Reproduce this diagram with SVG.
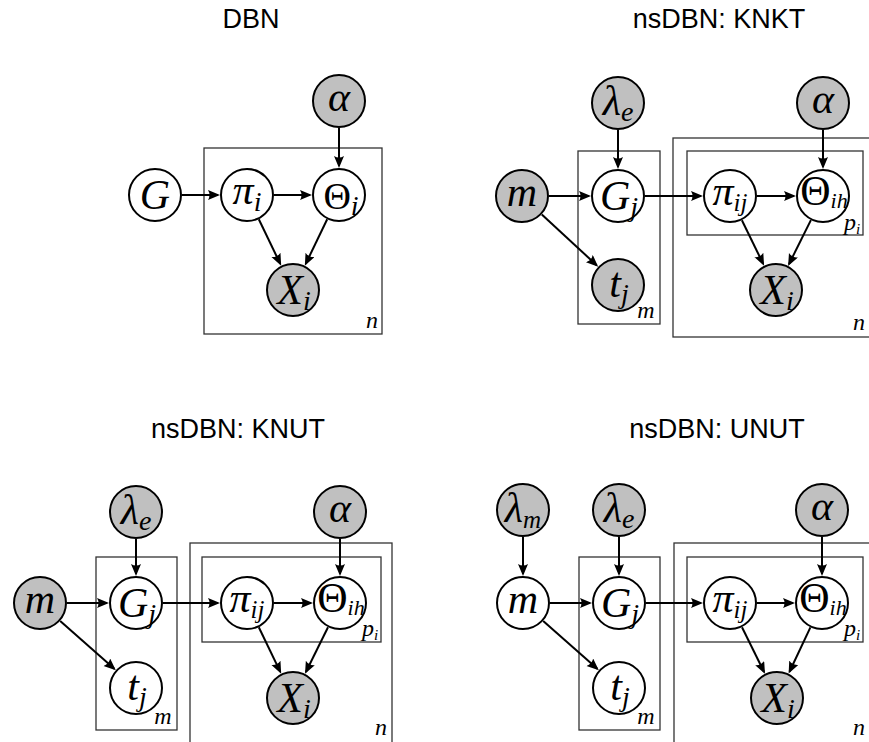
<svg xmlns="http://www.w3.org/2000/svg" width="869" height="742" viewBox="0 0 869 742">
<style>
.title{font-family:"Liberation Sans",Arial,sans-serif;font-size:27px;fill:#000;text-anchor:middle}
.plate{fill:none;stroke:#333;stroke-width:1.3}
.edge{fill:none;stroke:#000;stroke-width:2;marker-end:url(#ah)}
.obs{fill:#c0c0c0;stroke:#000;stroke-width:2}
.lat{fill:#fff;stroke:#000;stroke-width:2}
.lbl{font-family:"Liberation Serif","Times New Roman",serif;font-style:italic;font-size:42px;fill:#000;text-anchor:middle}
.up{font-style:normal}
.sub{font-size:28px}
.sub2{font-size:25px}
.sub3{font-size:22px}
.pl{font-family:"Liberation Serif","Times New Roman",serif;font-style:italic;font-size:24px;fill:#000;text-anchor:middle}
</style>
<defs>
<marker id="ah" markerUnits="userSpaceOnUse" markerWidth="14" markerHeight="12" refX="10" refY="5" orient="auto">
<path d="M0,0 L12,5 L0,10 Q3,5 0,0 z" fill="#000"/>
</marker>
</defs>

<g id="titles">
<text class="title" x="251" y="28">DBN</text>
<text class="title" x="719" y="28">nsDBN: KNKT</text>
<text class="title" x="238" y="438">nsDBN: KNUT</text>
<text class="title" x="717" y="438">nsDBN: UNUT</text>
</g>

<g id="plates">
<rect class="plate" x="204" y="148" width="178" height="186"/>
<text class="pl" x="372" y="328">n</text>

<rect class="plate" x="578" y="151" width="82" height="173"/>
<text class="pl" x="646" y="318">m</text>
<rect class="plate" x="673" y="138" width="220" height="199"/>
<text class="pl" x="859" y="330">n</text>
<rect class="plate" x="687" y="151" width="176" height="84"/>
<text class="pl" x="852" y="230">p<tspan font-size="15" dy="4">i</tspan></text>

<rect class="plate" x="96" y="557" width="81" height="173"/>
<text class="pl" x="163" y="724">m</text>
<rect class="plate" x="190" y="543" width="202" height="220"/>
<text class="pl" x="381" y="735">n</text>
<rect class="plate" x="202" y="557" width="179" height="85"/>
<text class="pl" x="370" y="636">p<tspan font-size="15" dy="4">i</tspan></text>

<rect class="plate" x="579" y="557" width="81" height="173"/>
<text class="pl" x="646" y="724">m</text>
<rect class="plate" x="674" y="543" width="220" height="220"/>
<text class="pl" x="859" y="735">n</text>
<rect class="plate" x="687" y="557" width="176" height="85"/>
<text class="pl" x="852" y="636">p<tspan font-size="15" dy="4">i</tspan></text>
</g>

<g id="connectors">
<line class="edge" x1="182" y1="195" x2="218" y2="195"/>
<line class="edge" x1="274" y1="195" x2="310" y2="195"/>
<line class="edge" x1="339" y1="128" x2="339" y2="166"/>
<line class="edge" x1="258.8" y1="219.3" x2="280.3" y2="263.9"/>
<line class="edge" x1="327.2" y1="219.3" x2="305.7" y2="263.9"/>

<line class="edge" x1="618" y1="130" x2="618" y2="167"/>
<line class="edge" x1="549" y1="196" x2="589" y2="196"/>
<line class="edge" x1="541.8" y1="214.4" x2="596.7" y2="265.3"/>
<line class="edge" x1="645" y1="196" x2="701" y2="196"/>
<line class="edge" x1="823" y1="130" x2="823" y2="167"/>
<line class="edge" x1="757" y1="196" x2="794" y2="196"/>
<line class="edge" x1="741.9" y1="220.3" x2="763.2" y2="263.9"/>
<line class="edge" x1="810.9" y1="220.1" x2="789.0" y2="264.1"/>

<line class="edge" x1="136" y1="539" x2="136" y2="574"/>
<line class="edge" x1="340" y1="539" x2="340" y2="574"/>
<line class="edge" x1="67" y1="603" x2="107" y2="603"/>
<line class="edge" x1="60.2" y1="620.9" x2="114.3" y2="668.8"/>
<line class="edge" x1="163" y1="603" x2="218" y2="603"/>
<line class="edge" x1="274" y1="603" x2="311" y2="603"/>
<line class="edge" x1="258.8" y1="627.3" x2="280.3" y2="671.9"/>
<line class="edge" x1="328.0" y1="627.2" x2="305.9" y2="672.0"/>

<line class="edge" x1="523" y1="537" x2="523" y2="574"/>
<line class="edge" x1="619" y1="537" x2="619" y2="574"/>
<line class="edge" x1="822" y1="537" x2="822" y2="574"/>
<line class="edge" x1="550" y1="603" x2="590" y2="603"/>
<line class="edge" x1="543.2" y1="620.9" x2="597.3" y2="668.8"/>
<line class="edge" x1="646" y1="603" x2="701" y2="603"/>
<line class="edge" x1="757" y1="603" x2="793" y2="603"/>
<line class="edge" x1="742.0" y1="627.2" x2="764.1" y2="672.0"/>
<line class="edge" x1="810.4" y1="627.4" x2="789.5" y2="671.8"/>
</g>

<!-- Panel 1: DBN -->
<g id="p1-G"><circle class="lat" cx="155" cy="195" r="26"/><text class="lbl" x="155" y="209">G</text></g>
<g id="p1-pi"><circle class="lat" cx="247" cy="195" r="26"/><text class="lbl" x="247" y="204">π<tspan class="sub" dy="7">i</tspan></text></g>
<g id="p1-theta"><circle class="lat" cx="339" cy="195" r="26"/><text class="lbl" x="341" y="209"><tspan class="up" font-size="38">Θ</tspan><tspan class="sub" dy="6">i</tspan></text></g>
<g id="p1-alpha"><circle class="obs" cx="339" cy="101" r="26"/><text class="lbl" x="339" y="111">α</text></g>
<g id="p1-X"><circle class="obs" cx="293" cy="290" r="26"/><text class="lbl" x="294" y="304">X<tspan class="sub" dy="6">i</tspan></text></g>

<!-- Panel 2: KNKT -->
<g id="p2-lambda"><circle class="obs" cx="618" cy="103" r="26"/><text class="lbl" x="618" y="115">λ<tspan class="sub" dy="6">e</tspan></text></g>
<g id="p2-alpha"><circle class="obs" cx="823" cy="103" r="26"/><text class="lbl" x="823" y="113">α</text></g>
<g id="p2-m"><circle class="obs" cx="522" cy="196" r="26"/><text class="lbl" x="522" y="206" font-size="46">m</text></g>
<g id="p2-G"><circle class="lat" cx="618" cy="196" r="26"/><text class="lbl" x="619" y="210">G<tspan class="sub" dy="6">j</tspan></text></g>
<g id="p2-t"><circle class="obs" cx="618" cy="285" r="26"/><text class="lbl" x="619" y="297">t<tspan class="sub" dy="6">j</tspan></text></g>
<g id="p2-pi"><circle class="lat" cx="730" cy="196" r="26"/><text class="lbl" x="730" y="205">π<tspan class="sub2" dy="6">ij</tspan></text></g>
<g id="p2-theta"><circle class="lat" cx="823" cy="196" r="26"/><text class="lbl" x="824" y="205" font-size="31"><tspan class="up">Θ</tspan><tspan class="sub3" dy="3">ih</tspan></text></g>
<g id="p2-X"><circle class="obs" cx="776" cy="290" r="26"/><text class="lbl" x="777" y="304">X<tspan class="sub" dy="6">i</tspan></text></g>

<!-- Panel 3: KNUT -->
<g id="p3-lambda"><circle class="obs" cx="136" cy="512" r="26"/><text class="lbl" x="136" y="524">λ<tspan class="sub" dy="6">e</tspan></text></g>
<g id="p3-alpha"><circle class="obs" cx="340" cy="512" r="26"/><text class="lbl" x="340" y="522">α</text></g>
<g id="p3-m"><circle class="obs" cx="40" cy="603" r="26"/><text class="lbl" x="40" y="613" font-size="46">m</text></g>
<g id="p3-G"><circle class="lat" cx="136" cy="603" r="26"/><text class="lbl" x="137" y="617">G<tspan class="sub" dy="6">j</tspan></text></g>
<g id="p3-t"><circle class="lat" cx="136" cy="688" r="26"/><text class="lbl" x="137" y="700">t<tspan class="sub" dy="6">j</tspan></text></g>
<g id="p3-pi"><circle class="lat" cx="247" cy="603" r="26"/><text class="lbl" x="247" y="612">π<tspan class="sub2" dy="6">ij</tspan></text></g>
<g id="p3-theta"><circle class="lat" cx="340" cy="603" r="26"/><text class="lbl" x="341" y="612" font-size="31"><tspan class="up">Θ</tspan><tspan class="sub3" dy="3">ih</tspan></text></g>
<g id="p3-X"><circle class="obs" cx="293" cy="698" r="26"/><text class="lbl" x="294" y="712">X<tspan class="sub" dy="6">i</tspan></text></g>

<!-- Panel 4: UNUT -->
<g id="p4-lambdam"><circle class="obs" cx="523" cy="510" r="26"/><text class="lbl" x="523" y="522">λ<tspan class="sub2" dy="6">m</tspan></text></g>
<g id="p4-lambdae"><circle class="obs" cx="619" cy="510" r="26"/><text class="lbl" x="619" y="522">λ<tspan class="sub" dy="6">e</tspan></text></g>
<g id="p4-alpha"><circle class="obs" cx="822" cy="510" r="26"/><text class="lbl" x="822" y="520">α</text></g>
<g id="p4-m"><circle class="lat" cx="523" cy="603" r="26"/><text class="lbl" x="523" y="613" font-size="46">m</text></g>
<g id="p4-G"><circle class="lat" cx="619" cy="603" r="26"/><text class="lbl" x="620" y="617">G<tspan class="sub" dy="6">j</tspan></text></g>
<g id="p4-t"><circle class="lat" cx="619" cy="688" r="26"/><text class="lbl" x="620" y="700">t<tspan class="sub" dy="6">j</tspan></text></g>
<g id="p4-pi"><circle class="lat" cx="730" cy="603" r="26"/><text class="lbl" x="730" y="612">π<tspan class="sub2" dy="6">ij</tspan></text></g>
<g id="p4-theta"><circle class="lat" cx="822" cy="603" r="26"/><text class="lbl" x="823" y="612" font-size="31"><tspan class="up">Θ</tspan><tspan class="sub3" dy="3">ih</tspan></text></g>
<g id="p4-X"><circle class="obs" cx="777" cy="698" r="26"/><text class="lbl" x="778" y="712">X<tspan class="sub" dy="6">i</tspan></text></g>
</svg>
